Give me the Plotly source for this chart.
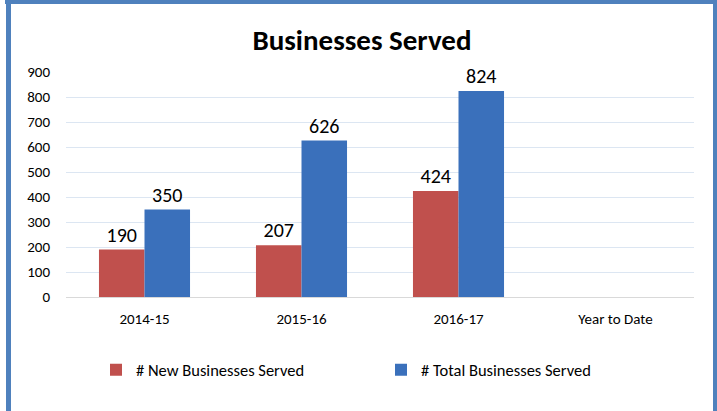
import plotly.graph_objects as go

W, H = 717, 411

# data
years = ["2014-15", "2015-16", "2016-17", "Year to Date"]
new_served = [190, 207, 424, None]
total_served = [350, 626, 824, None]
y_ticks = [0, 100, 200, 300, 400, 500, 600, 700, 800, 900]

FONT = "Carlito, Lato, Liberation Sans, sans-serif"
RED = "#c0504d"
BLUE = "#3a70bb"
FRAME = "#4f81bd"


def px(x):
    return x / W


def py(y):
    return 1 - y / H


fig = go.Figure()
fig.add_trace(go.Bar(
    x=years, y=new_served, name="# New Businesses Served",
    marker=dict(color=RED, line=dict(width=0)),
    text=new_served, textposition="outside", cliponaxis=False,
    textfont=dict(size=20, color="#000000"),
))
fig.add_trace(go.Bar(
    x=years, y=total_served, name="# Total Businesses Served",
    marker=dict(color=BLUE, line=dict(width=0)),
    text=total_served, textposition="outside", cliponaxis=False,
    textfont=dict(size=20, color="#000000"),
))

# blue frame around the chart
frame = [
    (5, 0, 717, 4),
    (6, 4, 11, 411),
    (713, 4, 717, 411),
]
shapes = [dict(type="rect", xref="paper", yref="paper",
               x0=px(a), x1=px(c), y0=py(d), y1=py(b),
               fillcolor=FRAME, line=dict(width=0), layer="above")
          for a, b, c, d in frame]

fig.update_layout(
    width=W, height=H,
    margin=dict(l=0, r=0, t=0, b=0),
    paper_bgcolor="white", plot_bgcolor="white",
    font=dict(family=FONT, size=15, color="#000000"),
    barmode="group", bargap=0.42, bargroupgap=0,
    title=dict(text="<b>Businesses Served</b>", x=px(362), xanchor="center",
               y=py(40), yanchor="middle", font=dict(size=29, color="#000000")),
    xaxis=dict(domain=[px(66), px(694)], showgrid=False, showline=False,
               ticks="outside", ticklen=8, tickcolor="rgba(0,0,0,0)",
               tickfont=dict(size=15), automargin=False),
    yaxis=dict(domain=[py(297), py(72)], range=[0, 900], tickvals=y_ticks,
               showgrid=True, gridcolor="#dce6f2", gridwidth=1,
               zeroline=True, zerolinecolor="#d9d9d9", zerolinewidth=1,
               showline=False, ticks="outside", ticklen=12,
               tickcolor="rgba(0,0,0,0)",
               tickfont=dict(size=15), automargin=False),
    legend=dict(orientation="h", x=px(96), xanchor="left", y=py(370),
                yanchor="middle", entrywidth=240, entrywidthmode="pixels",
                font=dict(size=16.5), itemwidth=30),
    shapes=shapes,
    showlegend=True,
)

fig.write_html("out.html", config={"displayModeBar": False},
               post_script="document.body.style.margin='0';")
